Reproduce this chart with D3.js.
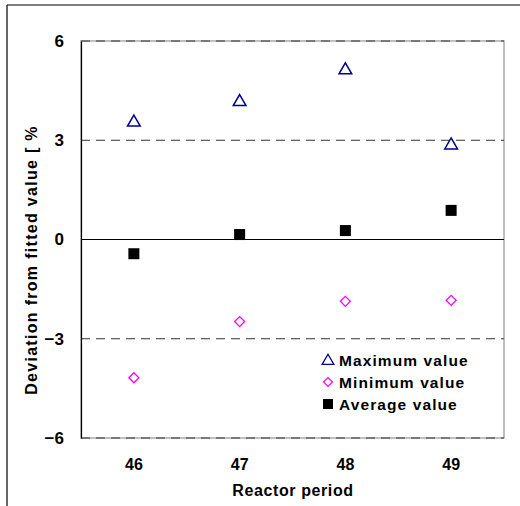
<!DOCTYPE html>
<html>
<head>
<meta charset="utf-8">
<script src="https://cdn.jsdelivr.net/npm/d3@7"></script>
<style>
  body { margin: 0; background: #fff; }
  text { font-family: "Liberation Sans", Arial, sans-serif; font-weight: bold; }
</style>
</head>
<body>
<svg id="chart" width="520" height="506"></svg>
<script>
// data
var periods = ['46', '47', '48', '49'];
var maxValues = [3.57, 4.19, 5.15, 2.88];
var minValues = [-4.18, -2.48, -1.87, -1.84];
var avgValues = [-0.43, 0.15, 0.27, 0.88];
var yTicks = [6, 3, 0, -3, -6];
var legendLabels = ['Maximum value', 'Minimum value', 'Average value'];

var svg = d3.select('#chart');
var plotL = 81, plotR = 504, plotT = 41, plotB = 438;

var x = d3.scaleBand().domain(periods).range([plotL, plotR]);
var y = d3.scaleLinear().domain([-6, 6]).range([plotB, plotT]);

// outer frame (only left and top show)
svg.append('line').attr('x1', 7).attr('x2', 7).attr('y1', 5).attr('y2', 506)
  .style('stroke', '#000').style('stroke-width', 1.2);
svg.append('line').attr('x1', 7).attr('x2', 520).attr('y1', 5).attr('y2', 5)
  .style('stroke', '#000').style('stroke-width', 1.2);

// plot border
svg.append('rect').attr('x', plotL).attr('y', plotT)
  .attr('width', plotR - plotL).attr('height', plotB - plotT)
  .style('fill', 'none').style('stroke', '#aaa').style('stroke-width', 1.5);

// gridlines
svg.selectAll('line.grid').data(yTicks.filter(function(d) { return d !== 0; }))
  .enter().append('line').classed('grid', true)
  .attr('x1', plotL).attr('x2', plotR)
  .attr('y1', function(d) { return y(d); }).attr('y2', function(d) { return y(d); })
  .style('stroke', '#333').style('stroke-dasharray', '9,6').style('stroke-width', 1);

svg.append('line').attr('x1', plotL).attr('x2', plotR).attr('y1', y(0)).attr('y2', y(0))
  .style('stroke', '#000').style('stroke-width', 1.2);

// y axis
var yAxis = svg.append('g').attr('transform', 'translate(' + plotL + ',0)')
  .call(d3.axisLeft(y).tickValues(yTicks).tickSize(0).tickPadding(17)
    .tickFormat(function(d) { return d < 0 ? '\u2212' + Math.abs(d) : d; }));
yAxis.select('.domain').style('stroke', '#000').style('stroke-width', 1.2);
yAxis.selectAll('text').style('font-size', '17px').style('font-family', '"Liberation Sans", Arial, sans-serif')
  .style('font-weight', 'bold').attr('fill', '#000');

// x axis
var xAxis = svg.append('g').attr('transform', 'translate(0,' + plotB + ')')
  .call(d3.axisBottom(x).tickSize(0).tickPadding(21));
xAxis.select('.domain').remove();
xAxis.selectAll('text').style('font-size', '16px').style('font-family', '"Liberation Sans", Arial, sans-serif')
  .style('font-weight', 'bold').attr('fill', '#000');

// axis titles
svg.append('text').attr('x', 293).attr('y', 496).attr('text-anchor', 'middle')
  .style('font-size', '16px').style('letter-spacing', '0.6px').text('Reactor period');
svg.append('text').attr('transform', 'translate(37,' + 260 + ') rotate(-90)')
  .attr('text-anchor', 'middle').style('font-size', '16px').style('letter-spacing', '1.3px')
  .text('Deviation from fitted value [ %');

var cx = function(d, i) { return x(periods[i]) + x.bandwidth() / 2; };

// maximum (triangles)
var tri = d3.symbol().type(d3.symbolTriangle).size(70);
svg.selectAll('path.max').data(maxValues).enter().append('path').classed('max', true)
  .attr('d', tri)
  .attr('transform', function(d, i) { return 'translate(' + cx(d, i) + ',' + (y(d) + 1) + ')'; })
  .style('fill', 'none').style('stroke', '#00008b').style('stroke-width', 1.5);

// minimum (diamonds)
svg.selectAll('path.min').data(minValues).enter().append('path').classed('min', true)
  .attr('d', d3.symbol().type(d3.symbolSquare).size(50))
  .attr('transform', function(d, i) { return 'translate(' + cx(d, i) + ',' + y(d) + ') rotate(45)'; })
  .style('fill', 'none').style('stroke', '#ff00ff').style('stroke-width', 1.3);

// average (squares)
svg.selectAll('rect.avg').data(avgValues).enter().append('rect').classed('avg', true)
  .attr('x', function(d, i) { return cx(d, i) - 5.5; })
  .attr('y', function(d) { return y(d) - 5.5; })
  .attr('width', 11).attr('height', 11)
  .style('fill', '#000');

// legend
var leg = svg.append('g').attr('transform', 'translate(328,360)');
var rows = leg.selectAll('g').data(legendLabels).enter().append('g')
  .attr('transform', function(d, i) { return 'translate(0,' + (i * 22) + ')'; });
rows.filter(function(d, i) { return i === 0; }).append('path')
  .attr('d', d3.symbol().type(d3.symbolTriangle).size(60))
  .attr('transform', 'translate(0,1)')
  .style('fill', 'none').style('stroke', '#00008b').style('stroke-width', 1.3);
rows.filter(function(d, i) { return i === 1; }).append('path')
  .attr('d', d3.symbol().type(d3.symbolSquare).size(40))
  .attr('transform', 'rotate(45)')
  .style('fill', 'none').style('stroke', '#ff00ff').style('stroke-width', 1.2);
rows.filter(function(d, i) { return i === 2; }).append('rect')
  .attr('x', -5).attr('y', -5).attr('width', 10).attr('height', 10).style('fill', '#000');
rows.append('text').attr('x', 11).attr('y', 6).style('font-size', '15.5px')
  .style('letter-spacing', '1.1px').text(function(d) { return d; });
</script>
</body>
</html>
